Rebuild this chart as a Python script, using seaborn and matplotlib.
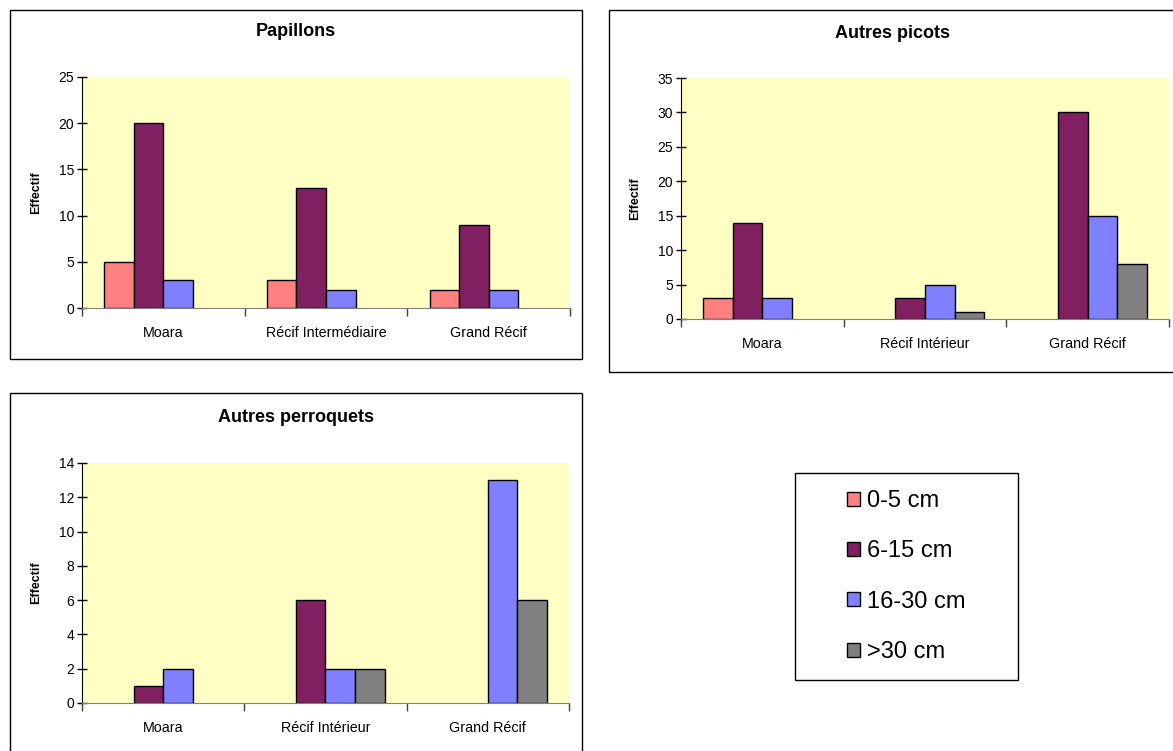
import numpy as np
import pandas as pd
import matplotlib
matplotlib.use("Agg")
import matplotlib.pyplot as plt
from matplotlib.patches import Rectangle, Patch
import seaborn as sns

sizes = ['0-5 cm', '6-15 cm', '16-30 cm', '>30 cm']
colors = ['#FF8080', '#802060', '#8080FF', '#808080']

sites_pap = ['Moara', 'Récif Intermédiaire', 'Grand Récif']
sites_other = ['Moara', 'Récif Intérieur', 'Grand Récif']

# values per size class, one list per site order above (nan = no bar)
papillons = {
    '0-5 cm': [5, 3, 2],
    '6-15 cm': [20, 13, 9],
    '16-30 cm': [3, 2, 2],
    '>30 cm': [np.nan, np.nan, np.nan],
}
picots = {
    '0-5 cm': [3, np.nan, np.nan],
    '6-15 cm': [14, 3, 30],
    '16-30 cm': [3, 5, 15],
    '>30 cm': [np.nan, 1, 8],
}
perroquets = {
    '0-5 cm': [np.nan, np.nan, np.nan],
    '6-15 cm': [1, 6, np.nan],
    '16-30 cm': [2, 2, 13],
    '>30 cm': [np.nan, 2, 6],
}

W, H = 1173, 751
plt.rcParams['font.family'] = ['Liberation Sans', 'DejaVu Sans']
fig = plt.figure(figsize=(W / 100, H / 100), dpi=100)


def px_rect(x0, y0, x1, y1):
    return [x0 / W, 1 - y1 / H, (x1 - x0) / W, (y1 - y0) / H]


def frame(x0, y0, x1, y1):
    r = Rectangle((x0 / W, 1 - y1 / H), (x1 - x0) / W, (y1 - y0) / H,
                  transform=fig.transFigure, fill=False, edgecolor='black',
                  linewidth=1.0, zorder=0)
    fig.patches.append(r)


def to_df(d, sites):
    rows = []
    for s in sizes:
        for site, v in zip(sites, d[s]):
            rows.append({'site': site, 'size': s, 'n': v})
    return pd.DataFrame(rows)


def panel(box, rect, d, sites, title, ymax, step, title_y):
    frame(*box)
    ax = fig.add_axes(px_rect(*rect))
    df = to_df(d, sites).dropna()
    sns.barplot(ax=ax, data=df, x='site', y='n', hue='size', order=sites,
                hue_order=sizes, palette=colors, width=4 / 5.5,
                edgecolor='black', linewidth=1.0, errorbar=None,
                legend=False, saturation=1)
    ax.set_facecolor('#FFFFC4')
    ax.set_xlim(-0.5, 2.5)
    ax.set_ylim(0, ymax)
    ax.set_yticks(np.arange(0, ymax + 0.1, step))
    ax.tick_params(axis='y', direction='inout', length=7, width=1, labelsize=10, pad=2)
    # boundaries get the tick marks, the names sit between them
    ax.set_xticks([-0.5, 0.5, 1.5, 2.5])
    ax.set_xticklabels([])
    ax.set_xticks([0, 1, 2], minor=True)
    ax.set_xticklabels(sites, minor=True)
    ax.tick_params(axis='x', which='major', direction='out', length=6, width=1, color='#404040')
    ax.tick_params(axis='x', which='minor', length=0, labelsize=10.3, pad=13)
    ax.spines['top'].set_visible(False)
    ax.spines['right'].set_visible(False)
    ax.spines['bottom'].set_color('#808080')
    ax.spines['left'].set_color('black')
    ax.set_xlabel('')
    ax.set_ylabel('Effectif', fontsize=9, fontweight='bold', labelpad=12)
    x_mid = (box[0] + box[2]) / 2
    fig.text(x_mid / W, 1 - title_y / H, title, ha='center', va='center',
             fontsize=13, fontweight='bold')
    return ax


ax1 = panel((10, 10, 582, 359), (82, 77, 570, 308), papillons, sites_pap,
            'Papillons', 25, 5, 32)
ax2 = panel((609, 10, 1176, 372), (681, 78, 1169, 319), picots, sites_other,
            'Autres picots', 35, 5, 33)
ax3 = panel((10, 393, 582, 756), (82, 463, 569, 703), perroquets, sites_other,
            'Autres perroquets', 14, 2, 418)

# legend box
frame(795, 473, 1018, 680)
handles = [Patch(facecolor=c, edgecolor='black', linewidth=1.0) for c in colors]
fig.legend(handles, sizes, loc='center',
           bbox_to_anchor=((795 + 1018) / 2 / W, 1 - (473 + 680) / 2 / H),
           frameon=False, fontsize=17, handlelength=0.55, handleheight=0.55,
           handletextpad=0.3, labelspacing=1.2)

fig.savefig('out.png', dpi=100)
